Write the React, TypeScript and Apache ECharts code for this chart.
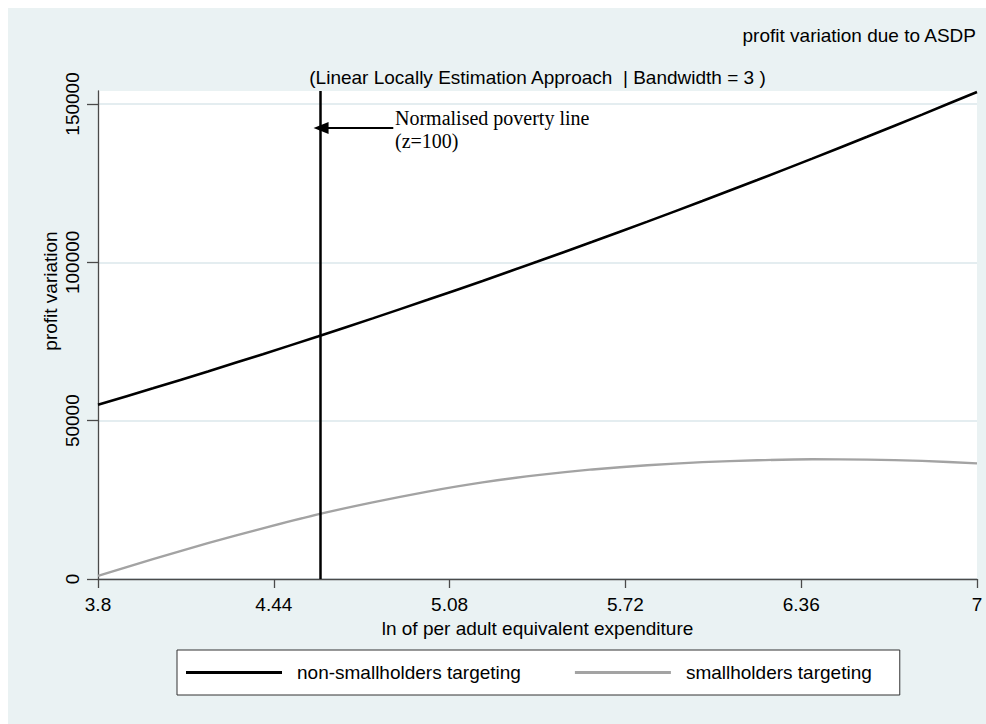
import React, { useEffect, useRef } from "react";
import * as echarts from "echarts";

// x: ln of per adult equivalent expenditure
const xValues = [3.8, 4.0, 4.2, 4.4, 4.6, 4.8, 5.0, 5.2, 5.4, 5.6, 5.8, 6.0, 6.2, 6.4, 6.6, 6.8, 7.0];
const nonSmallholders = [55000, 60200, 65530, 70990, 76580, 82300, 88150, 94130, 100240, 106480, 112850, 119350, 125980, 132740, 139630, 146650, 153800];
const smallholders = [1000, 6300, 11300, 16000, 20400, 24200, 27600, 30500, 32800, 34600, 35900, 36900, 37500, 37800, 37700, 37300, 36500];
const xTickValues = [3.8, 4.44, 5.08, 5.72, 6.36, 7];
const yTickValues = [0, 50000, 100000, 150000];
const seriesNames = ["non-smallholders targeting", "smallholders targeting"];
const povertyLine = 4.605; // ln(100)
const arrowY = 142400;
const arrowFromX = 4.875;
const arrowToX = 4.612;

const FONT = "'Liberation Sans', Arial, Helvetica, sans-serif";
const SERIF = "'Liberation Serif', 'Times New Roman', serif";

export default function App() {
  const ref = useRef<HTMLDivElement>(null);
  useEffect(() => {
    if (!ref.current) return;
    const chart = echarts.init(ref.current, undefined, { renderer: "svg" });
    const blackData = xValues.map((x, i) => [x, nonSmallholders[i]]);
    const grayData = xValues.map((x, i) => [x, smallholders[i]]);
    chart.setOption({
      animation: false,
      backgroundColor: "#eaf2f3",
      textStyle: { fontFamily: FONT },
      grid: {
        left: 90,
        top: 83,
        right: 9,
        bottom: 145,
        show: true,
        backgroundColor: "#ffffff",
        borderWidth: 0,
      },
      legend: {
        left: 169,
        top: 642,
        padding: [13, 28, 13, 9],
        backgroundColor: "#ffffff",
        borderColor: "#333333",
        borderWidth: 1,
        borderRadius: 0,
        icon: "rect",
        itemWidth: 96,
        itemHeight: 3,
        itemGap: 54,
        textStyle: { fontSize: 19, color: "#000", fontFamily: FONT, padding: [0, 0, 0, 10] },
        data: seriesNames,
      },
      xAxis: {
        type: "value",
        min: 3.8,
        max: 7,
        axisLine: { show: true, lineStyle: { color: "#4a4a4a", width: 1.3 } },
        axisTick: { show: true, length: 9, customValues: xTickValues, lineStyle: { color: "#4a4a4a", width: 1.3 } },
        axisLabel: {
          customValues: xTickValues,
          fontSize: 19,
          color: "#000",
          margin: 16,
          fontFamily: FONT,
          formatter: (v: number) => String(v),
        },
        splitLine: { show: false },
        name: "ln of per adult equivalent expenditure",
        nameLocation: "middle",
        nameGap: 37,
        nameTextStyle: { fontSize: 19, color: "#000", fontFamily: FONT },
      },
      yAxis: {
        type: "value",
        min: 0,
        max: 154100,
        axisLine: { show: true, lineStyle: { color: "#4a4a4a", width: 1.3 } },
        axisTick: { show: true, length: 11, customValues: yTickValues, lineStyle: { color: "#4a4a4a", width: 1.3 } },
        axisLabel: {
          customValues: yTickValues,
          rotate: 90,
          fontSize: 19,
          color: "#000",
          margin: 16,
          fontFamily: FONT,
          formatter: (v: number) => String(v),
        },
        splitLine: { show: true, lineStyle: { color: "#e4edf0", width: 2 } },
      },
      graphic: [
        {
          type: "text",
          right: 9,
          top: 18,
          style: { text: "profit variation due to ASDP", font: `19px ${FONT}`, fill: "#000" },
        },
        {
          type: "text",
          x: 529.5,
          y: 69,
          style: {
            text: "(Linear Locally Estimation Approach  | Bandwidth = 3 )",
            font: `19px ${FONT}`,
            fill: "#000",
            align: "center",
            verticalAlign: "middle",
          },
        },
        {
          type: "text",
          x: 42.4,
          y: 283,
          rotation: Math.PI / 2,
          style: { text: "profit variation", font: `19px ${FONT}`, fill: "#000", align: "center", verticalAlign: "middle" },
        },
        {
          type: "text",
          x: 387,
          y: 110.3,
          style: { text: "Normalised poverty line", font: `20px ${SERIF}`, fill: "#000", align: "left", verticalAlign: "middle" },
        },
        {
          type: "text",
          x: 387,
          y: 133.3,
          style: { text: "(z=100)", font: `20px ${SERIF}`, fill: "#000", align: "left", verticalAlign: "middle" },
        },
      ],
      series: [
        {
          name: seriesNames[0],
          type: "line",
          data: blackData,
          symbol: "none",
          smooth: 0.2,
          itemStyle: { color: "#000000" },
          lineStyle: { color: "#000000", width: 2.6 },
          z: 3,
          markLine: {
            silent: true,
            symbol: ["none", "none"],
            label: { show: false },
            lineStyle: { color: "#000000", width: 2.5, type: "solid" },
            data: [{ xAxis: povertyLine }],
          },
        },
        {
          name: seriesNames[1],
          type: "line",
          data: grayData,
          symbol: "none",
          smooth: 0.2,
          itemStyle: { color: "#a3a3a3" },
          lineStyle: { color: "#a3a3a3", width: 2.4 },
          z: 2,
          markLine: {
            silent: true,
            symbol: ["none", "triangle"],
            symbolSize: [12, 15],
            label: { show: false },
            lineStyle: { color: "#000000", width: 2.2, type: "solid" },
            data: [[{ coord: [arrowFromX, arrowY] }, { coord: [arrowToX, arrowY] }]],
          },
        },
      ],
    });
    return () => chart.dispose();
  }, []);
  return (
    <div
      ref={ref}
      style={{ position: "fixed", left: 8, top: 8, width: 978, height: 716 }}
    />
  );
}
